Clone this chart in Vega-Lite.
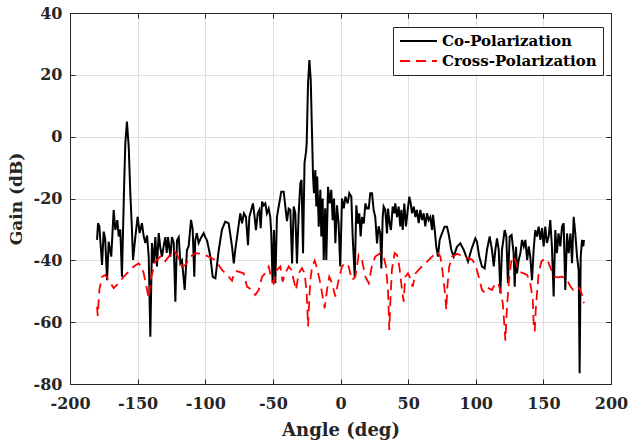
{
  "$schema": "https://vega.github.io/schema/vega-lite/v6.json",
  "width": 541,
  "height": 371,
  "autosize": "none",
  "padding": {"left": 70, "top": 13, "right": 17, "bottom": 61},
  "background": "white",
  "config": {
    "view": {"stroke": "#262626", "strokeWidth": 1},
    "axis": {
      "labelFont": "DejaVu Serif", "labelFontWeight": "bold", "labelFontSize": 16, "labelColor": "#262626",
      "titleFont": "DejaVu Serif", "titleFontWeight": "bold", "titleFontSize": 18, "titleColor": "#262626",
      "domainColor": "#262626", "tickColor": "#262626", "gridColor": "#dfdfdf", "gridWidth": 1, "tickSize": -5,
      "labelExpr": "'' + datum.value"
    },
    "legend": {
      "orient": "none", "legendX": 323, "legendY": 14,
      "strokeColor": "#262626", "fillColor": "white", "padding": 6,
      "labelFont": "DejaVu Serif", "labelFontWeight": "bold", "labelFontSize": 15, "labelColor": "black",
      "symbolType": "stroke", "symbolSize": 1369, "symbolStrokeWidth": 2, "rowPadding": 4, "labelOffset": 4,
      "clipHeight": 16, "title": null
    }
  },
  "datasets": {
    "co": [
      {"a":-180,"g":-33.4},{"a":-179.3,"g":-28},{"a":-178.3,"g":-29},{"a":-176.3,"g":-41.5},{"a":-175.1,"g":-30.7},{"a":-174,"g":-33},
      {"a":-172.6,"g":-46.4},{"a":-171.4,"g":-34},{"a":-169.5,"g":-38.8},{"a":-167.7,"g":-23.7},{"a":-166.5,"g":-30.2},{"a":-165,"g":-27},
      {"a":-164,"g":-32.3},{"a":-162.8,"g":-30},{"a":-161.6,"g":-45.3},{"a":-160,"g":-16.2},{"a":-159.1,"g":-2.1},{"a":-157.9,"g":4.85},
      {"a":-156.6,"g":-3.2},{"a":-155.4,"g":-18.3},{"a":-154.2,"g":-30},{"a":-153.4,"g":-39.9},{"a":-151.7,"g":-32.5},{"a":-150,"g":-25.9},
      {"a":-148.5,"g":-31.2},{"a":-146.8,"g":-28},{"a":-145.6,"g":-32},{"a":-144.3,"g":-34.4},{"a":-143,"g":-32},{"a":-141.8,"g":-38.8},
      {"a":-140.6,"g":-64.7},{"a":-139.4,"g":-34.4},{"a":-138.1,"g":-40.9},{"a":-136.9,"g":-32.5},{"a":-135.7,"g":-42},{"a":-134.4,"g":-31.2},
      {"a":-133.2,"g":-36},{"a":-132,"g":-38.8},{"a":-130.8,"g":-35.5},{"a":-129.5,"g":-32.5},{"a":-128.5,"g":-37.6},{"a":-127.5,"g":-32.5},
      {"a":-125.8,"g":-38.8},{"a":-124.6,"g":-32.5},{"a":-123.3,"g":-34.4},{"a":-122.1,"g":-53.4},{"a":-120.9,"g":-33.5},{"a":-119.6,"g":-32.5},
      {"a":-118.4,"g":-40.9},{"a":-117.2,"g":-40},{"a":-115.2,"g":-49.6},{"a":-113.5,"g":-36.6},{"a":-112.3,"g":-35.5},{"a":-110.5,"g":-26.9},
      {"a":-109.3,"g":-30},{"a":-108.1,"g":-45.3},{"a":-107.4,"g":-33.5},{"a":-106.2,"g":-31.2},{"a":-104.9,"g":-34.4},{"a":-102.9,"g":-32.5},
      {"a":-101.2,"g":-31.2},{"a":-100,"g":-32.5},{"a":-98.7,"g":-33.5},{"a":-96.2,"g":-38.8},{"a":-94.5,"g":-45.3},{"a":-92.5,"g":-45.8},
      {"a":-90,"g":-36.6},{"a":-87.6,"g":-30},{"a":-85.2,"g":-27.5},{"a":-82.7,"g":-28},{"a":-80.2,"g":-35.5},{"a":-78.9,"g":-41},
      {"a":-77.8,"g":-36.6},{"a":-75.8,"g":-30.2},{"a":-74.1,"g":-24.8},{"a":-72.8,"g":-28},{"a":-71.4,"g":-24.8},{"a":-69.9,"g":-26},
      {"a":-68.4,"g":-35.1},{"a":-67.4,"g":-26},{"a":-66,"g":-23.7},{"a":-64.7,"g":-21.6},{"a":-63.5,"g":-26},{"a":-62.5,"g":-30.2},
      {"a":-61.2,"g":-24.8},{"a":-60,"g":-23.7},{"a":-59,"g":-29.6},{"a":-58,"g":-21},{"a":-56.8,"g":-22.2},{"a":-55.6,"g":-21.6},
      {"a":-54.4,"g":-24.8},{"a":-53.1,"g":-23.3},{"a":-51.9,"g":-26},{"a":-51.2,"g":-31.3},{"a":-50.2,"g":-47.4},{"a":-49.2,"g":-30.2},
      {"a":-48.2,"g":-47.4},{"a":-47,"g":-26},{"a":-45.7,"g":-22.6},{"a":-43.8,"g":-17.8},{"a":-42,"g":-17.8},{"a":-40.8,"g":-22.6},
      {"a":-39.6,"g":-27.3},{"a":-38.3,"g":-23.3},{"a":-37.1,"g":-23.7},{"a":-35.8,"g":-41},{"a":-34.6,"g":-22.6},{"a":-33.4,"g":-24.8},
      {"a":-32.2,"g":-41},{"a":-30.9,"g":-24.8},{"a":-29.7,"g":-15.1},{"a":-28.8,"g":-14},{"a":-27.7,"g":-37.7},{"a":-26.6,"g":-8.5},
      {"a":-25.5,"g":-5},{"a":-25,"g":-2.1},{"a":-24,"g":17.3},{"a":-23,"g":24.8},{"a":-22,"g":18.3},{"a":-21,"g":0},
      {"a":-20.3,"g":-12.9},{"a":-19.6,"g":-18.3},{"a":-18.6,"g":-10.8},{"a":-17.9,"g":-22.6},{"a":-17.2,"g":-12.9},{"a":-16.1,"g":-29.1},
      {"a":-14.9,"g":-17.2},{"a":-14.2,"g":-32.3},{"a":-13.2,"g":-20},{"a":-12.4,"g":-39.9},{"a":-11.3,"g":-23.2},{"a":-10.5,"g":-39.9},
      {"a":-9.2,"g":-16.2},{"a":-8,"g":-21.6},{"a":-6.8,"g":-17.2},{"a":-5.8,"g":-27},{"a":-4.8,"g":-20},{"a":-3.8,"g":-34.5},
      {"a":-2.6,"g":-22.2},{"a":-1.4,"g":-28.1},{"a":-0.2,"g":-42},{"a":1.1,"g":-20},{"a":2.4,"g":-23.2},{"a":3.6,"g":-19.4},
      {"a":5.3,"g":-21.6},{"a":6.5,"g":-18.3},{"a":8,"g":-19.4},{"a":9,"g":-32.3},{"a":10.5,"g":-45.3},{"a":11.7,"g":-22.2},
      {"a":12.9,"g":-28.1},{"a":13.9,"g":-24.8},{"a":14.9,"g":-32.3},{"a":15.9,"g":-26},{"a":17.2,"g":-28.1},{"a":18.4,"g":-21.6},
      {"a":19.6,"g":-23.2},{"a":20.9,"g":-23.2},{"a":22,"g":-18.3},{"a":23.3,"g":-18.3},{"a":24.5,"g":-23.7},{"a":25.7,"g":-26},
      {"a":27,"g":-34.5},{"a":28.2,"g":-29},{"a":29.4,"g":-31.3},{"a":30.2,"g":-42.6},{"a":31.2,"g":-26},{"a":31.9,"g":-22.6},
      {"a":33.1,"g":-23.7},{"a":34.4,"g":-31.3},{"a":35.1,"g":-23.3},{"a":36.3,"g":-28},{"a":37.3,"g":-30.2},{"a":38.6,"g":-22.6},
      {"a":39.8,"g":-24.8},{"a":40.5,"g":-21.6},{"a":41.8,"g":-26},{"a":43,"g":-22.6},{"a":44.2,"g":-29},{"a":45,"g":-23.7},
      {"a":46,"g":-30.2},{"a":47.2,"g":-21.6},{"a":48.4,"g":-29},{"a":50,"g":-22.6},{"a":50.9,"g":-19.4},{"a":51.9,"g":-21.6},
      {"a":52.9,"g":-24.8},{"a":54.2,"g":-22.6},{"a":55.4,"g":-26},{"a":56.5,"g":-23.7},{"a":57.8,"g":-28},{"a":59,"g":-23.7},
      {"a":60.3,"g":-27},{"a":61.5,"g":-24.8},{"a":62.7,"g":-29},{"a":64,"g":-24.8},{"a":65.2,"g":-27},{"a":66.4,"g":-26},
      {"a":67.7,"g":-30.2},{"a":68.4,"g":-25.3},{"a":69.7,"g":-30.2},{"a":70.8,"g":-35.6},{"a":72.1,"g":-38.8},{"a":73.3,"g":-33.4},
      {"a":75,"g":-31.3},{"a":77,"g":-29.1},{"a":78.7,"g":-29.1},{"a":79.9,"g":-31.3},{"a":81.9,"g":-36.6},{"a":83.7,"g":-38.8},
      {"a":86.1,"g":-35.6},{"a":88.6,"g":-34.5},{"a":91.1,"g":-36.6},{"a":94.3,"g":-40.4},{"a":96.7,"g":-36.6},{"a":99.7,"g":-32.9},
      {"a":100.9,"g":-34},{"a":102.6,"g":-38.8},{"a":104.6,"g":-42},{"a":106.6,"g":-42.6},{"a":108.3,"g":-36.6},{"a":110.3,"g":-32.3},
      {"a":112,"g":-36.6},{"a":113.3,"g":-42},{"a":114.5,"g":-36.6},{"a":115.7,"g":-32.9},{"a":117,"g":-36.6},{"a":118.2,"g":-50.6},
      {"a":119.4,"g":-36.6},{"a":121.4,"g":-30.2},{"a":122.6,"g":-32.3},{"a":123.8,"g":-47.4},{"a":125.1,"g":-32.3},{"a":126.5,"g":-31.8},
      {"a":128,"g":-37.7},{"a":128.8,"g":-48.5},{"a":129.8,"g":-35.6},{"a":130.5,"g":-44.2},{"a":131.7,"g":-40},{"a":133,"g":-37.7},
      {"a":134.2,"g":-33.4},{"a":135.5,"g":-35.5},{"a":136.7,"g":-33.4},{"a":138,"g":-39.9},{"a":139.2,"g":-35.5},{"a":140.3,"g":-38.8},
      {"a":141.6,"g":-46.4},{"a":142.8,"g":-36.6},{"a":144,"g":-30.2},{"a":145.3,"g":-32.3},{"a":146.5,"g":-29.1},{"a":147.8,"g":-33.4},
      {"a":149,"g":-29.6},{"a":150.2,"g":-35.5},{"a":151.4,"g":-29.1},{"a":152.6,"g":-34.4},{"a":153.9,"g":-32.3},{"a":155.1,"g":-27},
      {"a":156.3,"g":-35.5},{"a":157.6,"g":-51.7},{"a":158.8,"g":-30.2},{"a":160,"g":-37.7},{"a":161.2,"g":-31.3},{"a":162.5,"g":-35.5},
      {"a":163.8,"g":-29.1},{"a":165,"g":-28},{"a":166.2,"g":-49.6},{"a":167.5,"g":-31.3},{"a":168.7,"g":-37.7},{"a":170,"g":-31.3},
      {"a":171.2,"g":-40.9},{"a":172.4,"g":-25.9},{"a":173.6,"g":-31.3},{"a":174.9,"g":-38.8},{"a":176.1,"g":-43.1},{"a":176.8,"g":-76.5},
      {"a":177.6,"g":-38.8},{"a":178.6,"g":-33.4},{"a":179.5,"g":-35.5},{"a":180,"g":-33.4}
    ],
    "cross": [
      {"a":-180,"g":-55},{"a":-179.5,"g":-58},{"a":-178.3,"g":-49.6},{"a":-176.3,"g":-45.3},{"a":-174,"g":-44.7},{"a":-171.4,"g":-46.4},
      {"a":-167.7,"g":-49},{"a":-164,"g":-47.4},{"a":-160.3,"g":-45.3},{"a":-156.6,"g":-43.7},{"a":-152.9,"g":-42},{"a":-149.2,"g":-41},
      {"a":-147,"g":-42},{"a":-145.5,"g":-44.2},{"a":-143,"g":-49.6},{"a":-141.8,"g":-52.3},{"a":-139.9,"g":-45.3},{"a":-136.9,"g":-40.4},
      {"a":-133.2,"g":-38.8},{"a":-130,"g":-40.5},{"a":-127,"g":-38.8},{"a":-123.3,"g":-36.6},{"a":-120.1,"g":-38.8},{"a":-117.2,"g":-42},
      {"a":-114.7,"g":-41.5},{"a":-111,"g":-38.8},{"a":-107.4,"g":-37.7},{"a":-102.4,"g":-37.9},{"a":-97.5,"g":-38.8},{"a":-92.5,"g":-39.9},
      {"a":-87.6,"g":-43.1},{"a":-82.7,"g":-45.3},{"a":-80.2,"g":-46.6},{"a":-78.2,"g":-43.7},{"a":-76.5,"g":-43.5},{"a":-71.6,"g":-44.2},
      {"a":-69.1,"g":-48.5},{"a":-65.4,"g":-49.6},{"a":-63,"g":-51.2},{"a":-60.5,"g":-49.6},{"a":-58,"g":-45.3},{"a":-55.6,"g":-44.2},
      {"a":-53.1,"g":-42},{"a":-50.7,"g":-46.4},{"a":-49.4,"g":-47.4},{"a":-47,"g":-43.1},{"a":-44.5,"g":-42},{"a":-42.8,"g":-46.9},
      {"a":-40.8,"g":-44.2},{"a":-38.3,"g":-42},{"a":-36.4,"g":-43.1},{"a":-34.6,"g":-46.4},{"a":-32.9,"g":-49.6},{"a":-30.9,"g":-44.2},
      {"a":-28.5,"g":-42.5},{"a":-26.5,"g":-44.2},{"a":-25,"g":-50.6},{"a":-24,"g":-61.4},{"a":-23.7,"g":-58},{"a":-22.3,"g":-46.4},
      {"a":-21,"g":-42},{"a":-19.1,"g":-40.1},{"a":-17.4,"g":-42.5},{"a":-14.9,"g":-47.4},{"a":-11.7,"g":-55.5},{"a":-10,"g":-49.6},
      {"a":-8.3,"g":-45.3},{"a":-6.3,"g":-47.4},{"a":-3.8,"g":-51.7},{"a":-1.4,"g":-46.4},{"a":1.1,"g":-42},{"a":3.6,"g":-40.8},
      {"a":6,"g":-42},{"a":8.5,"g":-46.4},{"a":11,"g":-45.3},{"a":13.4,"g":-38.3},{"a":15.9,"g":-40},{"a":18.4,"g":-45.3},
      {"a":20.9,"g":-47.4},{"a":23.3,"g":-41.5},{"a":25.7,"g":-38.8},{"a":29.4,"g":-37.7},{"a":31.9,"g":-38.8},{"a":33.6,"g":-42},
      {"a":35.1,"g":-49.6},{"a":36.1,"g":-62.5},{"a":36.8,"g":-54},{"a":38,"g":-43.1},{"a":40,"g":-37.7},{"a":41.8,"g":-38.3},
      {"a":43.5,"g":-42},{"a":45.5,"g":-49.6},{"a":46.7,"g":-53.4},{"a":47.9,"g":-45.3},{"a":49.9,"g":-44.2},{"a":51.5,"g":-45.8},
      {"a":53.4,"g":-48.5},{"a":55.4,"g":-44.2},{"a":59,"g":-42.5},{"a":62.7,"g":-41},{"a":65.2,"g":-39.9},{"a":67.7,"g":-38.8},
      {"a":71.4,"g":-37.2},{"a":73.8,"g":-38.8},{"a":75,"g":-42},{"a":76.2,"g":-46.4},{"a":77.5,"g":-51.7},{"a":78.2,"g":-56},
      {"a":79,"g":-48.5},{"a":80.4,"g":-42},{"a":82.4,"g":-38.8},{"a":86.1,"g":-37.9},{"a":89.8,"g":-38.5},{"a":93.5,"g":-39.2},
      {"a":97.2,"g":-39.7},{"a":99.7,"g":-41.3},{"a":102.2,"g":-45.3},{"a":104.6,"g":-49.6},{"a":107,"g":-50.6},{"a":109.6,"g":-49},
      {"a":112,"g":-49.6},{"a":114.5,"g":-47.4},{"a":116.5,"g":-47.4},{"a":118.2,"g":-49.6},{"a":120,"g":-53.9},{"a":121.4,"g":-62.5},
      {"a":121.9,"g":-66},{"a":123.1,"g":-55},{"a":124.4,"g":-47.4},{"a":126,"g":-41},{"a":127.3,"g":-38.8},{"a":128.8,"g":-39.4},
      {"a":130.5,"g":-42},{"a":132.2,"g":-43.7},{"a":135.4,"g":-44.2},{"a":138,"g":-44.7},{"a":140.3,"g":-47.4},{"a":142.2,"g":-52.8},
      {"a":142.9,"g":-61.4},{"a":143.6,"g":-63},{"a":144.5,"g":-55},{"a":146.5,"g":-44.2},{"a":148.5,"g":-40.4},{"a":151,"g":-39.4},
      {"a":153.4,"g":-40.4},{"a":155.9,"g":-43.1},{"a":158.4,"g":-45.3},{"a":160.9,"g":-45.5},{"a":163.8,"g":-45.3},{"a":166.2,"g":-45.8},
      {"a":168.2,"g":-46.9},{"a":170,"g":-48.5},{"a":172,"g":-49.6},{"a":173.6,"g":-49},{"a":175.6,"g":-48.5},{"a":177.4,"g":-49.6},
      {"a":178.6,"g":-51.2},{"a":180,"g":-53.9}
    ]
  },
  "layer": [
    {
      "data": {"name": "co"},
      "mark": {"type": "line", "strokeWidth": 2, "clip": true},
      "encoding": {
        "x": {"field": "a", "type": "quantitative", "scale": {"domain": [-200, 200], "nice": false},
              "axis": {"values": [-200,-150,-100,-50,0,50,100,150,200], "title": "Angle (deg)", "grid": true, "labelPadding": 16, "titlePadding": 10, "labelFlush": false}},
        "y": {"field": "g", "type": "quantitative", "scale": {"domain": [-80, 40], "nice": false},
              "axis": {"values": [-80,-60,-40,-20,0,20,40], "title": "Gain (dB)", "titleFontSize": 17, "grid": true, "labelPadding": 13, "titlePadding": 8, "labelFlush": false}},
        "color": {"datum": "Co-Polarization", "type": "nominal", "scale": {"domain": ["Co-Polarization", "Cross-Polarization"], "range": ["#000000", "#ff0000"]}},
        "strokeDash": {"datum": "Co-Polarization", "type": "nominal", "scale": {"domain": ["Co-Polarization", "Cross-Polarization"], "range": [[1, 0], [10, 6]]}}
      }
    },
    {
      "data": {"name": "cross"},
      "mark": {"type": "line", "strokeWidth": 1.8, "clip": true},
      "encoding": {
        "x": {"field": "a", "type": "quantitative", "axis": {"orient": "top", "labels": false, "title": null, "grid": false, "values": [-200,-150,-100,-50,0,50,100,150,200]}},
        "y": {"field": "g", "type": "quantitative", "axis": {"orient": "right", "labels": false, "title": null, "grid": false, "values": [-80,-60,-40,-20,0,20,40]}},
        "color": {"datum": "Cross-Polarization", "type": "nominal"},
        "strokeDash": {"datum": "Cross-Polarization", "type": "nominal"}
      }
    }
  ],
  "resolve": {"axis": {"x": "independent", "y": "independent"}}
}
